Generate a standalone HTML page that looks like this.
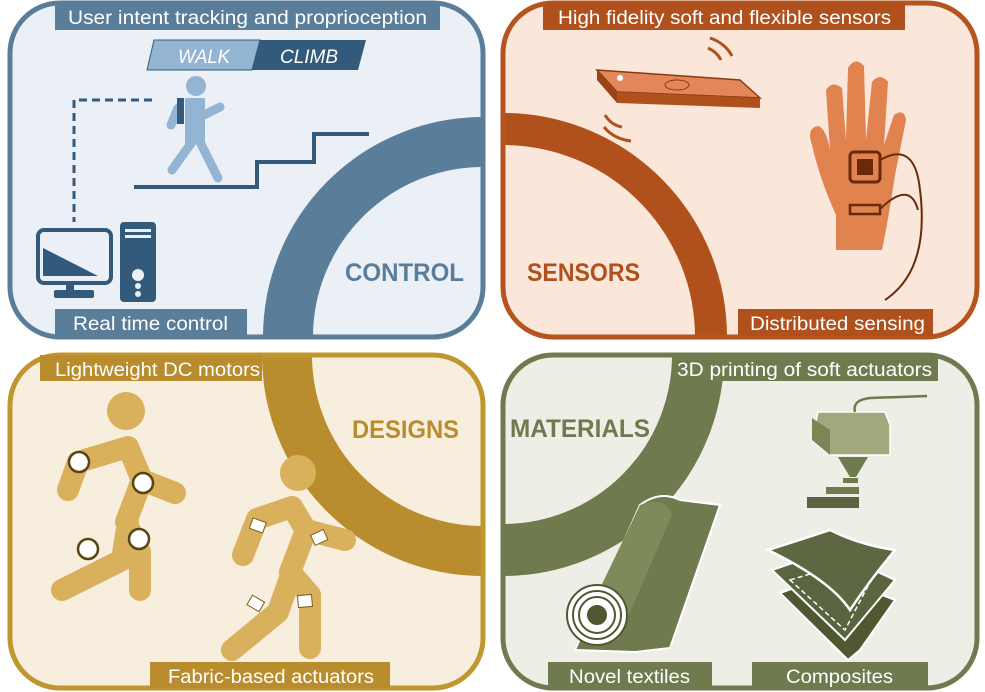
<!DOCTYPE html>
<html><head><meta charset="utf-8"><style>
html,body{margin:0;padding:0;background:#fff;}
svg{display:block;font-family:"Liberation Sans",sans-serif;}
</style></head><body>
<svg width="985" height="692" viewBox="0 0 985 692" xmlns="http://www.w3.org/2000/svg">
<defs>
<clipPath id="c1"><rect x="10" y="3" width="473" height="334" rx="50"/></clipPath>
<clipPath id="c2"><rect x="503" y="3" width="474" height="334" rx="50"/></clipPath>
<clipPath id="c3"><rect x="10" y="355" width="473" height="333" rx="50"/></clipPath>
<clipPath id="c4"><rect x="503" y="355" width="474" height="333" rx="50"/></clipPath>
</defs>

<!-- CONTROL -->
<rect x="10" y="3" width="473" height="334" rx="50" fill="#ebf0f7"/>
<g clip-path="url(#c1)"><circle cx="483" cy="337" r="195" fill="none" stroke="#5a7d9a" stroke-width="50"/></g>
<rect x="10" y="3" width="473" height="334" rx="50" fill="none" stroke="#5a7d9a" stroke-width="5"/>
<rect x="55" y="3" width="385" height="27" fill="#5a7d9a"/>
<text x="68" y="24" font-size="19" fill="#fff" textLength="359" lengthAdjust="spacingAndGlyphs">User intent tracking and proprioception</text>
<rect x="55" y="309" width="192" height="27" fill="#5a7d9a"/>
<text x="73" y="330" font-size="19" fill="#fff" textLength="155" lengthAdjust="spacingAndGlyphs">Real time control</text>
<text x="345" y="281" font-size="25" font-weight="bold" fill="#5a7d9a" textLength="119" lengthAdjust="spacingAndGlyphs">CONTROL</text>
<polygon points="154,40 260,40 252,70 147,70" fill="#93b4d2" stroke="#335a7a"/>
<polygon points="260,40 366,40 358,70 252,70" fill="#335a7a"/>
<text x="178" y="63" font-size="19" font-style="italic" fill="#fff" textLength="52" lengthAdjust="spacingAndGlyphs">WALK</text>
<text x="280" y="63" font-size="19" font-style="italic" fill="#fff" textLength="58" lengthAdjust="spacingAndGlyphs">CLIMB</text>
<polyline points="134,187 257,187 257,162 314,162 314,134 369,134" fill="none" stroke="#335a7a" stroke-width="4"/>
<polyline points="152,100 74,100 74,222" fill="none" stroke="#335a7a" stroke-width="3" stroke-dasharray="8,5"/>
<g fill="#93b4d2" stroke="#93b4d2" stroke-linecap="round">
<circle cx="196" cy="86" r="10" stroke="none"/>
<rect x="185" y="98" width="20" height="46" stroke="none"/>
<path d="M178 108 L171 125 M204 115 L220 107 M192 142 L172 170 M200 142 L218 178" stroke-width="9" fill="none"/>
</g>
<rect x="177" y="98" width="7" height="26" fill="#335a7a"/>
<rect x="38" y="230" width="73" height="53" rx="6" fill="none" stroke="#335a7a" stroke-width="4"/>
<polygon points="43,248 43,276 98,276" fill="#335a7a"/>
<rect x="66" y="284" width="8" height="8" fill="#335a7a"/><rect x="54" y="290" width="40" height="8" rx="2" fill="#335a7a"/>
<rect x="120" y="222" width="36" height="80" rx="4" fill="#335a7a"/>
<rect x="125" y="229" width="26" height="3" fill="#ebf0f7"/><rect x="125" y="235" width="26" height="3" fill="#ebf0f7"/>
<circle cx="138" cy="275" r="6" fill="#ebf0f7"/><circle cx="138" cy="286" r="3" fill="#ebf0f7"/><circle cx="138" cy="294" r="3" fill="#ebf0f7"/>

<!-- SENSORS -->
<rect x="503" y="3" width="474" height="334" rx="50" fill="#fbe6da"/>
<g clip-path="url(#c2)"><circle cx="503" cy="337" r="208" fill="none" stroke="#b0501c" stroke-width="32"/></g>
<rect x="503" y="3" width="474" height="334" rx="50" fill="none" stroke="#b5541f" stroke-width="5"/>
<rect x="543" y="3" width="362" height="27" fill="#b0501c"/>
<text x="558" y="24" font-size="19" fill="#fff" textLength="333" lengthAdjust="spacingAndGlyphs">High fidelity soft and flexible sensors</text>
<rect x="738" y="309" width="195" height="27" fill="#b0501c"/>
<text x="750" y="330" font-size="19" fill="#fff" textLength="175" lengthAdjust="spacingAndGlyphs">Distributed sensing</text>
<text x="527" y="281" font-size="25" font-weight="bold" fill="#b0501c" textLength="113" lengthAdjust="spacingAndGlyphs">SENSORS</text>
<polygon points="597,70 740,80 760,98 617,92" fill="#e3875a" stroke="#8a3a10" stroke-width="1.5"/>
<polygon points="597,70 617,92 617,103 597,80" fill="#9a4418"/>
<polygon points="617,92 760,98 760,108 617,103" fill="#b0501c"/>
<circle cx="620" cy="78" r="3" fill="#fff"/>
<ellipse cx="677" cy="85" rx="12" ry="5" fill="none" stroke="#8a3a10"/>
<path d="M710 38 q15 5 22 18 M708 48 q9 4 13 12 M605 115 q6 10 17 12 M604 127 q10 12 27 14" fill="none" stroke="#b0501c" stroke-width="3"/>
<path d="M836 250 L836 215 Q820 180 812 145 Q806 128 818 126 Q826 128 830 150 L826 90 Q832 80 842 88 L846 140 L848 68 Q855 56 864 66 L866 140 L872 82 Q880 72 888 82 L884 145 L894 115 Q904 108 906 120 L895 175 Q890 210 882 250 Z" fill="#e0834f"/>
<rect x="850" y="152" width="30" height="30" rx="4" fill="none" stroke="#6a2a08" stroke-width="3"/>
<rect x="857" y="159" width="16" height="16" fill="#6a2a08"/>
<rect x="850" y="205" width="30" height="9" fill="none" stroke="#6a2a08" stroke-width="2.5"/>
<path d="M880 160 Q915 140 920 190 Q930 270 885 300 M880 209 Q910 180 918 210" fill="none" stroke="#6a2a08" stroke-width="2"/>

<!-- DESIGNS -->
<rect x="10" y="355" width="473" height="333" rx="50" fill="#f7eedd"/>
<g clip-path="url(#c3)"><circle cx="483" cy="355" r="196" fill="none" stroke="#b98c2e" stroke-width="50"/></g>
<rect x="10" y="355" width="473" height="333" rx="50" fill="none" stroke="#c0962e" stroke-width="5"/>
<rect x="40" y="355" width="222" height="26" fill="#b98c2e"/>
<text x="55" y="376" font-size="19" fill="#fff" textLength="205" lengthAdjust="spacingAndGlyphs">Lightweight DC motors</text>
<rect x="150" y="662" width="240" height="26" fill="#b98c2e"/>
<text x="168" y="683" font-size="19" fill="#fff" textLength="206" lengthAdjust="spacingAndGlyphs">Fabric-based actuators</text>
<text x="352" y="438" font-size="25" font-weight="bold" fill="#b98c2e" textLength="107" lengthAdjust="spacingAndGlyphs">DESIGNS</text>
<g fill="#d9b05c" stroke="#d9b05c" stroke-linecap="round" stroke-linejoin="round">
<circle cx="126" cy="411" r="19" stroke="none"/>
<path d="M78 462 L128 447 L142 480 L126 522 L140 552 L140 590 M128 522 L122 560 L62 590 M78 462 L68 490 M142 480 L175 493" stroke-width="22" fill="none"/>
<circle cx="298" cy="473" r="18" stroke="none"/>
<path d="M257 519 L292 507 L306 530 L290 572 L310 595 L310 648 M292 572 L278 612 L232 650 M257 519 L243 555 M306 530 L345 540" stroke-width="22" fill="none"/>
</g>
<g fill="#fff" stroke="#5a4410" stroke-width="2.5">
<circle cx="79" cy="462" r="10"/><circle cx="143" cy="483" r="10"/><circle cx="88" cy="549" r="10"/><circle cx="139" cy="539" r="10"/>
</g>
<g fill="#fff" stroke="#7a6020" stroke-width="1">
<rect x="251" y="520" width="14" height="11" transform="rotate(20 258 525)"/><rect x="312" y="532" width="14" height="11" transform="rotate(-25 319 537)"/>
<rect x="249" y="598" width="14" height="11" transform="rotate(30 256 603)"/><rect x="298" y="595" width="14" height="12" transform="rotate(-5 305 601)"/>
</g>

<!-- MATERIALS -->
<rect x="503" y="355" width="474" height="333" rx="50" fill="#eeeee6"/>
<g clip-path="url(#c4)"><circle cx="503" cy="355" r="195" fill="none" stroke="#6f7a4e" stroke-width="52"/></g>
<rect x="503" y="355" width="474" height="333" rx="50" fill="none" stroke="#6f7a4e" stroke-width="5"/>
<rect x="675" y="355" width="263" height="26" fill="#6f7a4e"/>
<text x="677" y="376" font-size="19" fill="#fff" textLength="255" lengthAdjust="spacingAndGlyphs">3D printing of soft actuators</text>
<rect x="548" y="662" width="164" height="26" fill="#6f7a4e"/>
<text x="569" y="683" font-size="19" fill="#fff" textLength="121" lengthAdjust="spacingAndGlyphs">Novel textiles</text>
<rect x="752" y="662" width="176" height="26" fill="#6f7a4e"/>
<text x="786" y="683" font-size="19" fill="#fff" textLength="107" lengthAdjust="spacingAndGlyphs">Composites</text>
<text x="510" y="437" font-size="25" font-weight="bold" fill="#6f7a4e" textLength="140" lengthAdjust="spacingAndGlyphs">MATERIALS</text>
<path d="M818 412 L885 412 L890 425 L890 455 L830 455 L812 440 Z" fill="#a3a87c" stroke="#fff" stroke-width="1.5"/>
<path d="M812 418 L830 430 L830 455 L812 440 Z" fill="#7c8556"/>
<path d="M855 412 Q852 400 870 398 L927 396" fill="none" stroke="#6f7a4e" stroke-width="2.5"/>
<polygon points="838,457 868,457 856,477 850,477" fill="#6f7a4e"/>
<rect x="843" y="478" width="15" height="5" fill="#6f7a4e"/><rect x="826" y="487" width="33" height="7" fill="#6f7a4e"/><rect x="807" y="497" width="52" height="11" fill="#5a6440"/>
<path d="M640 505 Q660 490 680 500 L720 505 L670 648 L635 652 L575 650 Z" fill="#6f7a4e" stroke="#fff" stroke-width="2"/>
<path d="M640 505 Q665 495 672 515 L618 640 L580 630 Z" fill="#7f8a5a"/>
<circle cx="597" cy="615" r="30" fill="#fff" stroke="#4f5830" stroke-width="2"/>
<circle cx="597" cy="615" r="24" fill="none" stroke="#4f5830" stroke-width="2"/>
<circle cx="597" cy="615" r="18" fill="none" stroke="#4f5830" stroke-width="2"/>
<circle cx="597" cy="615" r="11" fill="#4f5830" stroke="#fff" stroke-width="2"/>
<path d="M780 593 L830 575 L895 600 L860 650 L848 660 Z" fill="#4f5830" stroke="#fff" stroke-width="2"/>
<path d="M772 570 L830 550 L895 580 L855 628 L845 640 Z" fill="#5a6440" stroke="#fff" stroke-width="2"/>
<path d="M790 580 L830 568 L870 582 L845 630 Z" fill="none" stroke="#fff" stroke-width="1.5" stroke-dasharray="5,3"/>
<path d="M768 550 Q800 540 830 530 Q860 545 895 550 Q870 580 850 610 Q830 580 768 550 Z" fill="#5d6742" stroke="#fff" stroke-width="2.5"/>
</svg>
</body></html>
